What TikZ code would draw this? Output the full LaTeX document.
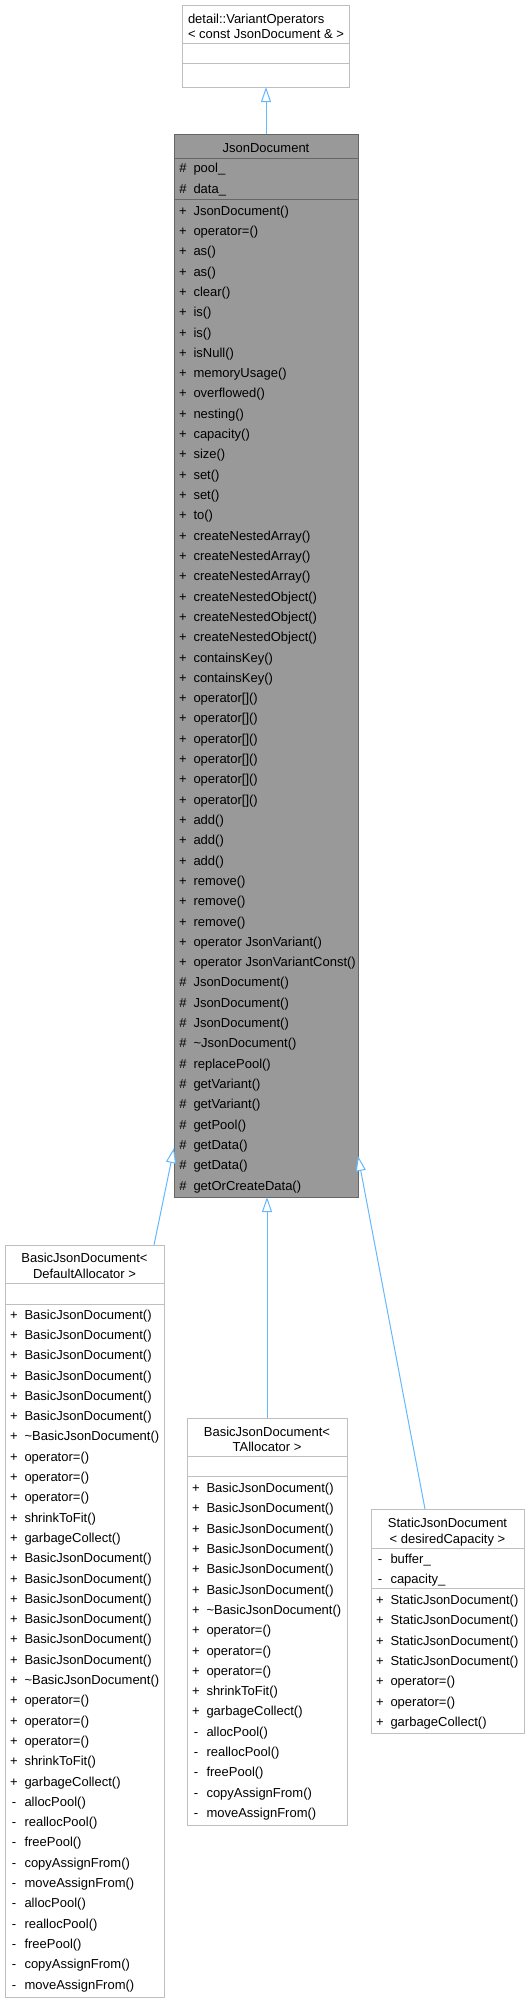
\documentclass[tikz,border=0pt]{standalone}
\usepackage{fontspec}
\setmainfont{Liberation Sans}
\usetikzlibrary{arrows.meta}
\definecolor{edgeblue}{HTML}{63B8FF}
\definecolor{boxgray}{HTML}{999999}
\definecolor{boxdark}{HTML}{666666}
\definecolor{boxlight}{HTML}{BFBFBF}
\begin{document}
\begin{tikzpicture}[x=1pt,y=-1pt,
  font=\fontsize{13}{15}\selectfont,
  cls/.style={draw=boxlight, fill=white, line width=1pt, anchor=north west, inner sep=0pt, outer sep=0pt},
  mainbox/.style={cls, draw=boxdark, fill=boxgray},
  sym/.style={anchor=base, inner sep=0pt, outer sep=0pt},
  txt/.style={anchor=base west, inner sep=0pt, outer sep=0pt},
  ttl/.style={anchor=base, inner sep=0pt, outer sep=0pt},
  ttlw/.style={anchor=base west, inner sep=0pt, outer sep=0pt},
  divl/.style={draw=boxlight, line width=1pt},
  divd/.style={draw=boxdark, line width=1pt},
  inh/.style={draw=edgeblue, line width=1pt, -{Triangle[length=15pt,width=10pt,fill=white]}},
]
\useasboundingbox (0,0) rectangle (529,2003);

% ---------- boxes ----------
\node[cls, minimum width=167pt, minimum height=82pt] (vo) at (182,5) {};
\node[mainbox, minimum width=184pt, minimum height=1063pt] (jd) at (174,134) {};
\node[cls, minimum width=159pt, minimum height=752pt] (bda) at (5,1245) {};
\node[cls, minimum width=160pt, minimum height=407pt] (bta) at (187,1418) {};
\node[cls, minimum width=153pt, minimum height=224pt] (sjd) at (371,1509) {};

% ---------- VariantOperators ----------
\draw[divl] (vo.west |- 0,43) -- (vo.east |- 0,43);
\draw[divl] (vo.west |- 0,63) -- (vo.east |- 0,63);
\node[ttlw] (vo-t1) at (188,23.5) {detail::VariantOperators};
\node[ttlw] (vo-t2) at (188,38.5) {< const JsonDocument \& >};

% ---------- JsonDocument ----------
\draw[divd] (jd.west |- 0,158) -- (jd.east |- 0,158);
\draw[divd] (jd.west |- 0,199) -- (jd.east |- 0,199);
\node[ttl] (jd-t) at (266,152) {JsonDocument};
\foreach \s/\t [count=\i from 0] in {\#/pool\_, \#/data\_} {
  \node[sym] (jd-as\i) at (183,{168.3+20.3*\i+4.6}) {\s};
  \node[txt] (jd-at\i) at (193.5,{168.3+20.3*\i+4.6}) {\t};
}
\foreach \s/\t [count=\i from 0] in {
  +/JsonDocument(), +/operator=(), +/as(), +/as(), +/clear(), +/is(), +/is(),
  +/isNull(), +/memoryUsage(), +/overflowed(), +/nesting(), +/capacity(),
  +/size(), +/set(), +/set(), +/to(), +/createNestedArray(), +/createNestedArray(),
  +/createNestedArray(), +/createNestedObject(), +/createNestedObject(),
  +/createNestedObject(), +/containsKey(), +/containsKey(),
  +/operator[](), +/operator[](), +/operator[](), +/operator[](), +/operator[](),
  +/operator[](), +/add(), +/add(), +/add(), +/remove(), +/remove(), +/remove(),
  +/operator JsonVariant(), +/operator JsonVariantConst(),
  \#/JsonDocument(), \#/JsonDocument(), \#/JsonDocument(),
  \#/\textasciitilde JsonDocument(), \#/replacePool(), \#/getVariant(),
  \#/getVariant(), \#/getPool(), \#/getData(), \#/getData(), \#/getOrCreateData()} {
  \node[sym] (jd-ms\i) at (183,{210.6+20.31*\i+4.6}) {\s};
  \node[txt] (jd-mt\i) at (193.5,{210.6+20.31*\i+4.6}) {\t};
}

% ---------- BasicJsonDocument<DefaultAllocator> ----------
\draw[divl] (bda.west |- 0,1283) -- (bda.east |- 0,1283);
\draw[divl] (bda.west |- 0,1304) -- (bda.east |- 0,1304);
\node[ttl] (bda-t1) at (84.5,1262.8) {BasicJsonDocument<};
\node[ttl] (bda-t2) at (84.5,1278.3) {DefaultAllocator >};
\foreach \s/\t [count=\i from 0] in {
  +/BasicJsonDocument(), +/BasicJsonDocument(), +/BasicJsonDocument(),
  +/BasicJsonDocument(), +/BasicJsonDocument(), +/BasicJsonDocument(),
  +/\textasciitilde BasicJsonDocument(), +/operator=(), +/operator=(), +/operator=(),
  +/shrinkToFit(), +/garbageCollect(),
  +/BasicJsonDocument(), +/BasicJsonDocument(), +/BasicJsonDocument(),
  +/BasicJsonDocument(), +/BasicJsonDocument(), +/BasicJsonDocument(),
  +/\textasciitilde BasicJsonDocument(), +/operator=(), +/operator=(), +/operator=(),
  +/shrinkToFit(), +/garbageCollect(),
  -/allocPool(), -/reallocPool(), -/freePool(), -/copyAssignFrom(), -/moveAssignFrom(),
  -/allocPool(), -/reallocPool(), -/freePool(), -/copyAssignFrom(), -/moveAssignFrom()} {
  \node[sym] (bda-ms\i) at (14,{1314.5+20.3*\i+4.6}) {\s};
  \node[txt] (bda-mt\i) at (24.5,{1314.5+20.3*\i+4.6}) {\t};
}

% ---------- BasicJsonDocument<TAllocator> ----------
\draw[divl] (bta.west |- 0,1456) -- (bta.east |- 0,1456);
\draw[divl] (bta.west |- 0,1476) -- (bta.east |- 0,1476);
\node[ttl] (bta-t1) at (267,1436.3) {BasicJsonDocument<};
\node[ttl] (bta-t2) at (267,1451.8) {TAllocator >};
\foreach \s/\t [count=\i from 0] in {
  +/BasicJsonDocument(), +/BasicJsonDocument(), +/BasicJsonDocument(),
  +/BasicJsonDocument(), +/BasicJsonDocument(), +/BasicJsonDocument(),
  +/\textasciitilde BasicJsonDocument(), +/operator=(), +/operator=(), +/operator=(),
  +/shrinkToFit(), +/garbageCollect(),
  -/allocPool(), -/reallocPool(), -/freePool(), -/copyAssignFrom(), -/moveAssignFrom()} {
  \node[sym] (bta-ms\i) at (196,{1488+20.3*\i+4.6}) {\s};
  \node[txt] (bta-mt\i) at (206.5,{1488+20.3*\i+4.6}) {\t};
}

% ---------- StaticJsonDocument<desiredCapacity> ----------
\draw[divl] (sjd.west |- 0,1548) -- (sjd.east |- 0,1548);
\draw[divl] (sjd.west |- 0,1588) -- (sjd.east |- 0,1588);
\node[ttl] (sjd-t1) at (447.5,1527.5) {StaticJsonDocument};
\node[ttl] (sjd-t2) at (447.5,1543) {< desiredCapacity >};
\foreach \s/\t [count=\i from 0] in {-/buffer\_, -/capacity\_} {
  \node[sym] (sjd-as\i) at (380,{1559+20.3*\i+4.6}) {\s};
  \node[txt] (sjd-at\i) at (390.5,{1559+20.3*\i+4.6}) {\t};
}
\foreach \s/\t [count=\i from 0] in {
  +/StaticJsonDocument(), +/StaticJsonDocument(), +/StaticJsonDocument(),
  +/StaticJsonDocument(), +/operator=(), +/operator=(), +/garbageCollect()} {
  \node[sym] (sjd-ms\i) at (380,{1600+20.33*\i+4.6}) {\s};
  \node[txt] (sjd-mt\i) at (390.5,{1600+20.33*\i+4.6}) {\t};
}

% ---------- inheritance connectors ----------
\coordinate (bdaTop) at (154,1245);
\coordinate (jdLeft) at (174,1148);
\coordinate (sjdTop) at (425,1509);
\coordinate (jdRight) at (358,1156);
\draw[inh] (jd.north) -- (jd.north |- vo.south);
\draw[inh] (bdaTop) -- (jdLeft);
\draw[inh] (bta.north) -- (bta.north |- jd.south);
\draw[inh] (sjdTop) -- (jdRight);
\end{tikzpicture}
\end{document}
